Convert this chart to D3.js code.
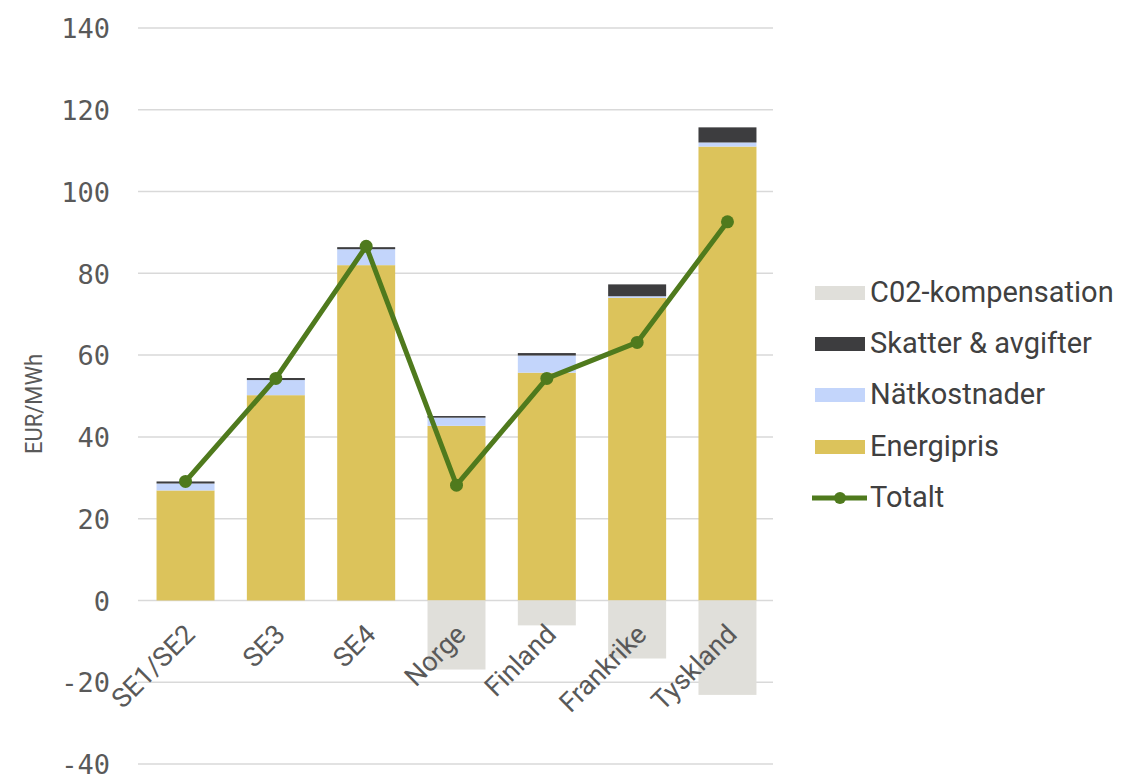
<!DOCTYPE html>
<html>
<head>
<meta charset="utf-8">
<script src="https://cdn.jsdelivr.net/npm/d3@7"></script>
<style>
  html, body { margin: 0; padding: 0; background: #ffffff; }
  svg { display: block; }
</style>
</head>
<body>
<svg id="chart" width="1124" height="774"></svg>
<script>
// Price components per area (EUR/MWh)
const categories = ["SE1/SE2", "SE3", "SE4", "Norge", "Finland", "Frankrike", "Tyskland"];
const energipris = [26.9, 50.2, 82.0, 42.7, 55.7, 74.0, 111.0];
const natkostnader = [1.7, 3.7, 3.9, 2.0, 4.2, 0.4, 1.0];
const skatter = [0.5, 0.5, 0.5, 0.4, 0.6, 2.9, 3.7];
const co2komp = [0, 0, 0, -16.9, -6.1, -14.2, -23.1];
const totalt = [29.1, 54.3, 86.6, 28.2, 54.3, 63.1, 92.6];
const yTicks = [-40, -20, 0, 20, 40, 60, 80, 100, 120, 140];

const seriesNames = ["C02-kompensation", "Skatter & avgifter", "Nätkostnader", "Energipris", "Totalt"];
const colors = {
  co2: "#e0dfda",
  skatt: "#3d3d3f",
  nat: "#c3d5fb",
  energi: "#dcc35b",
  total: "#4f7a1d"
};

const svg = d3.select("#chart");

const x = d3.scaleBand().domain(categories).range([141, 772]).paddingInner(0.358).paddingOuter(0.172);
const y = d3.scaleLinear().domain([-40, 140]).range([764, 28]);

// Horizontal gridlines
svg.append("g")
  .selectAll("line")
  .data(yTicks)
  .join("line")
  .attr("x1", 138).attr("x2", 773)
  .attr("y1", d => y(d)).attr("y2", d => y(d))
  .attr("stroke", "#d9d9d9").attr("stroke-width", 1.5);

// Y axis labels (plain hyphen for negatives)
const yAxis = d3.axisLeft(y).tickValues(yTicks).tickSize(0).tickPadding(0)
  .tickFormat(d => String(d));
const gy = svg.append("g").attr("transform", "translate(110,0)").call(yAxis);
gy.select(".domain").remove();
gy.selectAll("text")
  .attr("font-family", "DejaVu Sans Mono")
  .attr("font-size", 27)
  .attr("fill", "#595959")
  .attr("dy", "0.36em");

// Y axis title
svg.append("text")
  .attr("transform", "translate(42,404) rotate(-90)")
  .attr("text-anchor", "middle")
  .attr("font-family", "Roboto")
  .attr("font-size", 23)
  .attr("textLength", 100)
  .attr("lengthAdjust", "spacingAndGlyphs")
  .attr("fill", "#595959")
  .text("EUR/MWh");

// Stacked positive bars: Energipris, Nätkostnader, Skatter & avgifter
const rows = categories.map((c, i) => ({
  cat: c,
  energi: energipris[i],
  nat: natkostnader[i],
  skatt: skatter[i]
}));
const stack = d3.stack().keys(["energi", "nat", "skatt"]);
const layers = stack(rows);

svg.append("g")
  .selectAll("g")
  .data(layers)
  .join("g")
  .attr("fill", d => colors[d.key])
  .selectAll("rect")
  .data(d => d)
  .join("rect")
  .attr("x", d => x(d.data.cat))
  .attr("width", x.bandwidth())
  .attr("y", d => y(d[1]))
  .attr("height", d => y(d[0]) - y(d[1]));

// Negative CO2 compensation bars
svg.append("g")
  .selectAll("rect")
  .data(categories.map((c, i) => ({ cat: c, v: co2komp[i] })))
  .join("rect")
  .attr("x", d => x(d.cat))
  .attr("width", x.bandwidth())
  .attr("y", y(0))
  .attr("height", d => y(d.v) - y(0))
  .attr("fill", colors.co2);

// Total line with markers
const pts = categories.map((c, i) => ({ cat: c, v: totalt[i] }));
const line = d3.line().x(d => x(d.cat) + x.bandwidth() / 2).y(d => y(d.v));
svg.append("path")
  .datum(pts)
  .attr("d", line)
  .attr("fill", "none")
  .attr("stroke", colors.total)
  .attr("stroke-width", 5)
  .attr("stroke-linejoin", "round");
svg.append("g")
  .selectAll("circle")
  .data(pts)
  .join("circle")
  .attr("cx", d => x(d.cat) + x.bandwidth() / 2)
  .attr("cy", d => y(d.v))
  .attr("r", 6.5)
  .attr("fill", colors.total);

// Category labels, rotated
svg.append("g")
  .selectAll("text")
  .data(categories)
  .join("text")
  .attr("transform", d => `translate(${x(d) + x.bandwidth() / 2 + 11},${636}) rotate(-45)`)
  .attr("text-anchor", "end")
  .attr("font-family", "Roboto")
  .attr("font-size", 27)
  .attr("fill", "#595959")
  .text(d => d);

// Legend
const legend = svg.append("g");
const legendKeys = ["co2", "skatt", "nat", "energi", "total"];
const baselines = [302, 353, 404, 456, 507];
legendKeys.forEach((k, i) => {
  const by = baselines[i];
  if (k === "total") {
    legend.append("line")
      .attr("x1", 812).attr("x2", 867)
      .attr("y1", by - 9).attr("y2", by - 9)
      .attr("stroke", colors.total).attr("stroke-width", 5);
    legend.append("circle")
      .attr("cx", 840).attr("cy", by - 9).attr("r", 6)
      .attr("fill", colors.total);
  } else {
    legend.append("rect")
      .attr("x", 815).attr("y", by - 16)
      .attr("width", 50).attr("height", 14)
      .attr("fill", colors[k]);
  }
  legend.append("text")
    .attr("x", 870).attr("y", by)
    .attr("font-family", "Roboto")
    .attr("font-size", 29)
    .attr("fill", "#404040")
    .text(seriesNames[i]);
});
</script>
</body>
</html>
